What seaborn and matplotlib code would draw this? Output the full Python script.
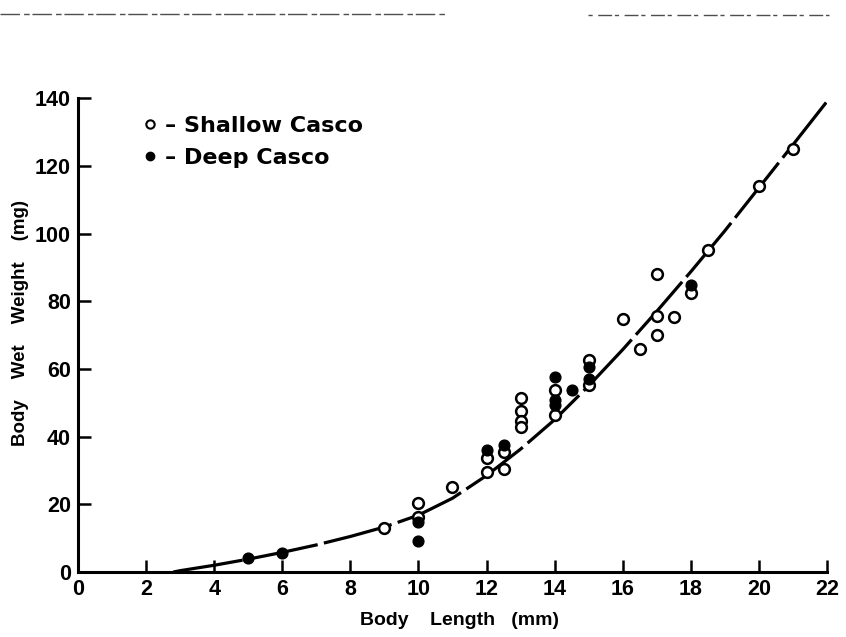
import matplotlib
matplotlib.use("Agg")
import matplotlib.pyplot as plt
from matplotlib.lines import Line2D
import pandas as pd
import seaborn as sns

# open circles
shallow_length = [9, 10, 10, 11, 12, 12, 12.5, 12.5, 13, 13, 13, 13, 14, 14,
                  15, 15, 16, 16.5, 17, 17, 17, 17.5, 18, 18.5, 20, 21]
shallow_weight = [13, 20.4, 16.3, 25, 29.5, 33.7, 30.4, 35.4, 51.4, 47.6, 44.6, 42.8,
                  46.4, 53.7, 62.6, 55.2, 74.7, 66, 88, 75.6, 70, 75.3, 82.4, 95, 114, 125]

# filled circles
deep_length = [5, 6, 10, 10, 12, 12.5, 14, 14, 14, 14.5, 15, 15, 18]
deep_weight = [4, 5.6, 9.2, 14.8, 36, 37.5, 57.6, 50.8, 49.3, 53.7, 60.5, 57, 84.8]

# fitted curve
curve_length = [2.8, 3, 4, 5, 6, 7, 8, 9, 10, 11, 12, 13, 14, 15, 16, 17, 18, 19, 20, 21, 22]
curve_weight = [0, 0.4, 2.0, 3.8, 5.8, 8.0, 10.5, 13.3, 16.8, 21.8, 28.5, 36.3, 45, 55,
                65.7, 77, 88.7, 100.8, 113.5, 126.2, 139]

x_ticks = list(range(0, 23, 2))
y_ticks = list(range(0, 141, 20))

shallow = pd.DataFrame({"length": shallow_length, "weight": shallow_weight})
deep = pd.DataFrame({"length": deep_length, "weight": deep_weight})
curve = pd.DataFrame({"length": curve_length, "weight": curve_weight})

sns.set_style("ticks")
plt.rcParams["font.family"] = ["Liberation Sans", "DejaVu Sans"]
plt.rcParams["text.color"] = "black"
plt.rcParams["axes.labelcolor"] = "black"
plt.rcParams["xtick.color"] = "black"
plt.rcParams["ytick.color"] = "black"
plt.rcParams["axes.edgecolor"] = "black"

fig = plt.figure(figsize=(8.46, 6.37), dpi=100)
ax = fig.add_axes([0.0922, 0.102, 0.8853, 0.744])

sns.lineplot(data=curve, x="length", y="weight", ax=ax, color="black",
             linewidth=2.3, linestyle=(0, (22, 2.0)), sort=False)
sns.scatterplot(data=shallow, x="length", y="weight", ax=ax, s=60,
                facecolor="white", edgecolor="black", linewidth=1.8, zorder=3)
sns.scatterplot(data=deep, x="length", y="weight", ax=ax, s=60,
                color="black", edgecolor="black", linewidth=1.0, zorder=3)

ax.set_xlim(0, 22)
ax.set_ylim(0, 140)
ax.set_xticks(x_ticks)
ax.set_yticks(y_ticks)
ax.tick_params(direction="in", length=9, width=1.8, labelsize=15.5, pad=5)
for lab in ax.get_xticklabels() + ax.get_yticklabels():
    lab.set_fontweight("bold")
sns.despine(ax=ax)
for sp in ("left", "bottom"):
    ax.spines[sp].set_linewidth(2.2)

ax.set_xlabel("Body    Length   (mm)", fontsize=14, fontweight="bold")
ax.xaxis.set_label_coords(0.51, -0.085)
ax.set_ylabel("Body    Wet    Weight    (mg)", fontsize=13.5, fontweight="bold")
ax.yaxis.set_label_coords(-0.066, 0.525)

handles = [
    Line2D([], [], marker="o", linestyle="none", markersize=6, markerfacecolor="white",
           markeredgecolor="black", markeredgewidth=1.5),
    Line2D([], [], marker="o", linestyle="none", markersize=6, color="black"),
]
leg = ax.legend(handles, ["– Shallow Casco", "– Deep Casco"], loc="upper left",
                bbox_to_anchor=(0.06, 1.005), frameon=False, handlelength=0.6,
                handletextpad=0.4, labelspacing=0.55,
                prop={"family": ["DejaVu Sans"], "weight": "bold", "size": 16})

# scan edge at the top of the page
fig.add_artist(Line2D([0.0, 0.526], [0.978, 0.978], color="0.3", linewidth=1.0,
                      linestyle=(0, (14, 3, 4, 2))))
fig.add_artist(Line2D([0.695, 0.98], [0.976, 0.976], color="0.3", linewidth=1.0,
                      linestyle=(0, (3, 4, 10, 2))))

fig.savefig("out.png", dpi=100)
